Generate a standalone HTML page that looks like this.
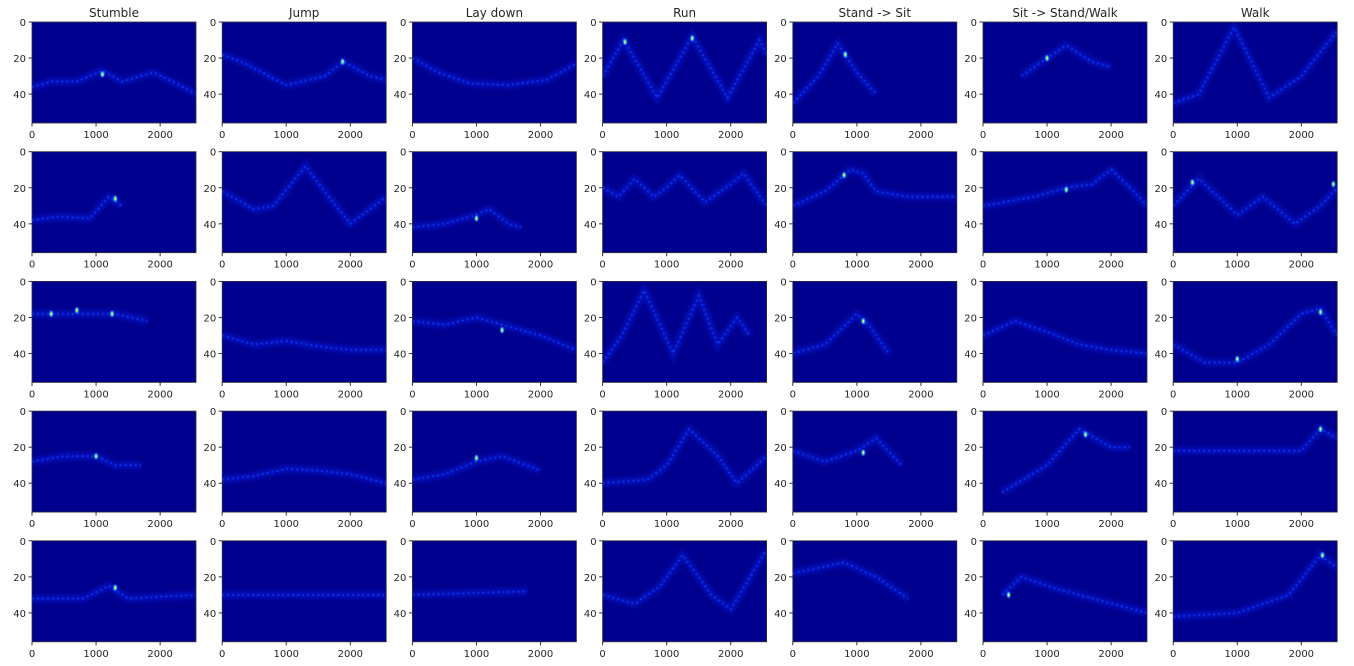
<!DOCTYPE html>
<html><head><meta charset="utf-8"><style>
body{margin:0;background:#fff;width:1354px;height:666px;overflow:hidden}
svg{display:block}
text{font-family:"DejaVu Sans","Liberation Sans",sans-serif;fill:#262626}
</style></head><body>
<svg id="fig" width="1354" height="666" viewBox="0 0 1354 666">
<defs>
<filter id="glow" filterUnits="userSpaceOnUse" x="0" y="0" width="1354" height="666"><feGaussianBlur stdDeviation="1.5"/></filter>
<filter id="soft" filterUnits="userSpaceOnUse" x="0" y="0" width="1354" height="666"><feGaussianBlur stdDeviation="0.6"/></filter>
</defs>
</svg>
<script>
const titles=["Stumble","Jump","Lay down","Run","Stand -> Sit","Sit -> Stand/Walk","Walk"];
const xTicks=[0,1000,2000];
const yTicks=[0,20,40];
const xMax=2560, yMax=56;
// ridges[row][col] : list of [sample, bin]
const ridges=[
[[[0,36],[300,33],[700,33],[1100,27],[1400,33],[1900,28],[2300,35],[2560,40]],
 [[0,18],[300,22],[1000,35],[1600,30],[1900,22],[2300,30],[2560,32]],
 [[0,20],[400,28],[900,34],[1500,35],[2100,32],[2560,23]],
 [[0,30],[330,10],[850,42],[1400,8],[1950,42],[2450,10],[2560,18]],
 [[0,45],[400,30],[700,12],[1000,28],[1300,40]],
 [[600,30],[1000,20],[1300,13],[1700,22],[2000,25]],
 [[0,45],[400,40],[950,3],[1500,42],[2000,30],[2560,5]]],
[[[0,38],[400,36],[900,37],[1200,25],[1400,30]],
 [[0,22],[500,32],[800,30],[1300,8],[1600,22],[2000,40],[2560,25]],
 [[0,42],[500,40],[900,36],[1200,32],[1500,40],[1700,42]],
 [[0,20],[250,25],[500,15],[800,25],[1000,20],[1200,13],[1600,28],[2000,18],[2200,12],[2560,30]],
 [[0,30],[500,22],[900,10],[1100,12],[1300,22],[1800,25],[2560,25]],
 [[0,30],[800,25],[1300,20],[1700,18],[2000,10],[2300,20],[2560,30]],
 [[0,30],[400,15],[1000,35],[1400,25],[1900,40],[2300,30],[2560,20]]],
[[[0,18],[600,18],[1300,18],[1800,22]],
 [[0,30],[500,35],[1000,33],[1500,36],[2000,38],[2560,38]],
 [[0,22],[500,24],[1000,20],[1500,25],[2000,30],[2560,38]],
 [[0,45],[300,30],[650,5],[1100,40],[1500,8],[1800,35],[2100,20],[2300,30]],
 [[0,40],[500,35],[800,25],[1000,18],[1200,25],[1500,40]],
 [[0,30],[500,22],[1000,28],[1500,35],[2000,38],[2560,40]],
 [[0,35],[500,45],[1000,45],[1500,35],[2000,18],[2300,15],[2560,30]]],
[[[0,28],[500,25],[1000,25],[1300,30],[1700,30]],
 [[0,38],[500,36],[1000,32],[1500,33],[2000,35],[2560,40]],
 [[0,38],[500,35],[1000,28],[1400,25],[2000,33]],
 [[0,40],[700,38],[1000,30],[1350,10],[1800,25],[2100,40],[2560,25]],
 [[0,22],[500,28],[1000,22],[1300,15],[1700,30]],
 [[300,45],[1000,30],[1500,10],[2000,20],[2300,20]],
 [[0,22],[1000,22],[2000,22],[2300,10],[2560,15]]],
[[[0,32],[800,32],[1200,25],[1500,32],[2560,30]],
 [[0,30],[2560,30]],
 [[0,30],[1800,28]],
 [[0,30],[500,35],[900,25],[1250,8],[1700,30],[2000,38],[2560,5]],
 [[0,18],[800,12],[1300,20],[1800,32]],
 [[300,30],[600,20],[1000,25],[1500,30],[2560,40]],
 [[0,42],[1000,40],[1800,30],[2300,8],[2560,15]]]
];
// hotspots: [row, col, sample, bin]
const hotspots=[[0,0,1100,29],[0,1,1880,22],[0,3,350,11],[0,3,1400,9],[0,4,820,18],[0,5,1000,20],
[1,0,1300,26],[1,2,1000,37],[1,4,800,13],[1,5,1300,21],[1,6,2500,18],[1,6,300,17],
[2,0,300,18],[2,0,700,16],[2,0,1250,18],[2,2,1400,27],[2,4,1100,22],[2,6,2300,17],[2,6,1000,43],
[3,0,1000,25],[3,2,1000,26],[3,4,1100,23],[3,5,1600,13],[3,6,2300,10],
[4,0,1300,26],[4,5,400,30],[4,6,2330,8]];
const svg=document.getElementById('fig');
const NS='http://www.w3.org/2000/svg';
const L0=32,T0=22,W=164,H=101,DX=190.2,DY=129.7;
function mk(t,a,p){const e=document.createElementNS(NS,t);for(const k in a)e.setAttribute(k,a[k]);(p||svg).appendChild(e);return e;}
for(let r=0;r<5;r++)for(let c=0;c<7;c++){
 const L=L0+c*DX,T=T0+r*DY;
 const sx=v=>L+v/xMax*W, sy=v=>T+v/yMax*H;
 const g=mk('g',{});
 
 
 mk('clipPath',{id:'cp'+r+c},g);
 mk('rect',{x:L,y:T,width:W,height:H},g.lastChild);
 const bg=mk('rect',{x:L,y:T,width:W,height:H,fill:'#00008f'},g);
 
 
 const inner=mk('g',{'clip-path':'url(#cp'+r+c+')'},g);
 const pts=ridges[r][c].map(p=>sx(p[0]).toFixed(1)+','+sy(p[1]).toFixed(1)).join(' ');
 const halo=mk('polyline',{points:pts,fill:'none',stroke:'#0a2cff',"stroke-width":8,opacity:0.3,filter:'url(#glow)'},inner);
 
 
 const line=mk('polyline',{points:pts,fill:'none',stroke:'#1040ff',"stroke-width":2,"stroke-dasharray":"2 3",opacity:0.9,filter:'url(#soft)'},inner);
 
 
 hotspots.filter(h=>h[0]===r&&h[1]===c).forEach(h=>{
  const s=mk('ellipse',{cx:sx(h[2]),cy:sy(h[3]),rx:1.8,ry:3,fill:'#30c8ff',filter:'url(#soft)'},inner);
  
  
  mk('ellipse',{cx:sx(h[2]),cy:sy(h[3]),rx:0.9,ry:1.4,fill:'#e8f040'},inner);
 });
 mk('rect',{x:L,y:T,width:W,height:H,fill:'none',stroke:'#333',"stroke-width":0.8},g);
 yTicks.forEach(v=>{const y=sy(v);mk('line',{x1:L-3.5,x2:L,y1:y,y2:y,stroke:'#333'},g);
  const t=mk('text',{x:L-6,y:y+4,"text-anchor":"end","font-size":10},g);t.textContent=v;
  });
 xTicks.forEach(v=>{const x=sx(v);mk('line',{x1:x,x2:x,y1:T+H,y2:T+H+3.5,stroke:'#333'},g);
  const t=mk('text',{x:x,y:T+H+15,"text-anchor":"middle","font-size":10},g);t.textContent=v;
  });
 if(r===0){const t=mk('text',{x:L+W/2,y:T-5,"text-anchor":"middle","font-size":12},g);t.textContent=titles[c];
  }
}
</script>
</body></html>
